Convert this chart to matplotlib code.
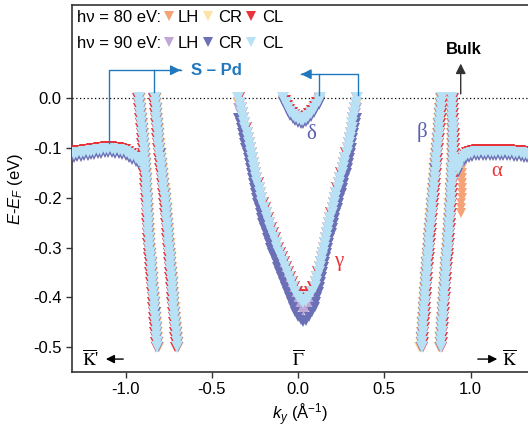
#!/usr/bin/env python3
# -*- coding:utf-8 -*-
import numpy as np
import matplotlib
matplotlib.use("Agg")
import matplotlib.pyplot as plt

plt.rcParams['font.family'] = ['Liberation Sans', 'DejaVu Sans']
plt.rcParams['axes.unicode_minus'] = False
plt.rcParams['mathtext.fontset'] = 'custom'
plt.rcParams['mathtext.rm'] = 'Liberation Sans'
plt.rcParams['mathtext.it'] = 'Liberation Sans:italic'

# energies of the MDC cuts (eV)
e_mdc = np.linspace(0.0, -0.5, 51)
e_vee = np.linspace(0.0, -0.4, 41)

# band positions (k in 1/A) for hv = 90 eV CL
k_left_out = [-0.923, -0.920, -0.917, -0.914, -0.911, -0.908, -0.906, -0.903, -0.900, -0.898,
              -0.895, -0.893, -0.891, -0.889, -0.888, -0.886, -0.884, -0.882, -0.881, -0.879,
              -0.877, -0.876, -0.874, -0.873, -0.871, -0.870, -0.868, -0.867, -0.865, -0.864,
              -0.862, -0.860, -0.858, -0.855, -0.853, -0.851, -0.848, -0.846, -0.844, -0.841,
              -0.839, -0.837, -0.835, -0.832, -0.830, -0.828, -0.825, -0.823, -0.821, -0.818,
              -0.816]
k_left_in = [-0.831, -0.829, -0.826, -0.824, -0.821, -0.819, -0.816, -0.814, -0.811, -0.809,
             -0.806, -0.803, -0.800, -0.796, -0.793, -0.790, -0.786, -0.783, -0.780, -0.776,
             -0.773, -0.771, -0.768, -0.766, -0.763, -0.761, -0.758, -0.756, -0.753, -0.751,
             -0.748, -0.746, -0.744, -0.742, -0.740, -0.738, -0.735, -0.733, -0.731, -0.729,
             -0.727, -0.724, -0.722, -0.719, -0.717, -0.714, -0.711, -0.709, -0.706, -0.704,
             -0.701]
k_beta = [0.833, 0.830, 0.828, 0.825, 0.823, 0.820, 0.817, 0.815, 0.812, 0.810,
          0.807, 0.804, 0.802, 0.799, 0.797, 0.794, 0.792, 0.789, 0.787, 0.784,
          0.782, 0.779, 0.777, 0.774, 0.772, 0.769, 0.767, 0.764, 0.762, 0.759,
          0.757, 0.755, 0.753, 0.750, 0.748, 0.746, 0.744, 0.742, 0.740, 0.738,
          0.736, 0.734, 0.732, 0.731, 0.729, 0.727, 0.725, 0.723, 0.720, 0.718,
          0.716]
k_bulk = [0.892, 0.893, 0.894, 0.894, 0.895, 0.896, 0.896, 0.897, 0.897, 0.897,
          0.897, 0.897, 0.896, 0.896, 0.895, 0.894, 0.893, 0.891, 0.889, 0.888,
          0.886, 0.884, 0.882, 0.881, 0.879, 0.877, 0.875, 0.873, 0.871, 0.869,
          0.867, 0.865, 0.863, 0.860, 0.858, 0.856, 0.854, 0.852, 0.850, 0.848,
          0.846, 0.844, 0.842, 0.841, 0.839, 0.837, 0.835, 0.833, 0.831, 0.829,
          0.827]

# gamma band, two branches + bottom
k_gam_left = [-0.346, -0.339, -0.332, -0.326, -0.319, -0.312, -0.305, -0.298, -0.292, -0.285,
              -0.278, -0.272, -0.266, -0.261, -0.255, -0.249, -0.242, -0.236, -0.229, -0.222,
              -0.215, -0.206, -0.197, -0.188, -0.179, -0.170, -0.160, -0.150, -0.140, -0.130,
              -0.120, -0.109, -0.098, -0.088, -0.077, -0.066, -0.054, -0.042, -0.030, -0.015,
              0.000]
k_gam_right = [0.340, 0.335, 0.330, 0.325, 0.320, 0.315, 0.310, 0.305, 0.300, 0.295,
               0.290, 0.282, 0.275, 0.267, 0.260, 0.252, 0.244, 0.237, 0.229, 0.222,
               0.214, 0.208, 0.201, 0.195, 0.188, 0.182, 0.176, 0.170, 0.164, 0.158,
               0.152, 0.146, 0.139, 0.133, 0.126, 0.120, 0.112, 0.104, 0.096, 0.081,
               0.065]
k_gam_bot = [0.015, 0.030, 0.045]
e_gam_bot = [-0.406, -0.409, -0.407]

# S-Pd surface band on the left
k_spd = [-1.30, -1.28, -1.26, -1.24, -1.22, -1.20, -1.18, -1.16, -1.14, -1.12, -1.10,
         -1.08, -1.06, -1.04, -1.02, -1.00, -0.98, -0.96, -0.94, -0.92, -0.905]
e_spd = [-0.113, -0.111, -0.110, -0.109, -0.108, -0.107, -0.106, -0.105, -0.104, -0.103, -0.103,
         -0.103, -0.104, -0.105, -0.107, -0.109, -0.112, -0.116, -0.121, -0.127, -0.133]

# alpha band on the right
k_alpha = [0.925, 0.935, 0.945, 0.960, 0.975, 0.990, 1.01, 1.03, 1.05, 1.07, 1.09, 1.11,
           1.13, 1.15, 1.17, 1.19, 1.21, 1.23, 1.25, 1.27, 1.29, 1.31, 1.33]
e_alpha = [-0.142, -0.132, -0.125, -0.119, -0.115, -0.112, -0.110, -0.109, -0.108, -0.108, -0.108, -0.108,
           -0.108, -0.108, -0.108, -0.108, -0.109, -0.109, -0.110, -0.110, -0.111, -0.112, -0.113]
# extra branch only seen with 80 eV LH
k_alpha_tail = [0.950, 0.952, 0.953, 0.953, 0.952, 0.950, 0.948, 0.946, 0.944, 0.942]
e_alpha_tail = [-0.14, -0.15, -0.16, -0.17, -0.18, -0.19, -0.20, -0.21, -0.22, -0.23]

# delta electron pocket
k_delta = [-0.085, -0.072, -0.058, -0.044, -0.030, -0.015, 0.000, 0.015,
           0.030, 0.045, 0.060, 0.075, 0.090, 0.105, 0.120, 0.130]
e_delta = [0.000, -0.010, -0.019, -0.027, -0.033, -0.038, -0.041, -0.043,
           -0.043, -0.040, -0.035, -0.029, -0.021, -0.013, -0.005, 0.001]

# the six data sets: 80 eV LH, CR, CL, 90 eV LH, CR, CL
series_colors = ['#f6a277', '#fde2a6', '#e8333b', '#bca7d5', '#6a6fb6', '#b8e1f5']
# offsets of each set relative to 90 eV CL
dk_steep = [-0.008, -0.012, 0.010, 0.007, -0.006, 0.0]
de_flat = [-0.006, -0.003, 0.006, -0.004, -0.008, 0.0]
de_vee = [-0.008, -0.012, 0.012, -0.020, -0.040, 0.0]
draw_order = [1, 0, 3, 4, 2, 5]


def main():

	fig = plt.figure(figsize=(5.28, 4.28), dpi=100)
	ax = fig.add_axes([0.1364, 0.1308, 0.8636, 0.8575])

	steep = [(k_left_out, e_mdc), (k_left_in, e_mdc), (k_beta, e_mdc), (k_bulk, e_mdc)]
	flat = [(k_spd, e_spd), (k_alpha, e_alpha), (k_delta, e_delta)]
	kv = np.concatenate([k_gam_left, k_gam_bot, k_gam_right[::-1]])
	ev = np.concatenate([e_vee, e_gam_bot, e_vee[::-1]])

	for s in draw_order:
		c = series_colors[s]
		ks = []
		es = []
		for k, e in steep:
			k = np.asarray(k)
			ks.append(k + dk_steep[s] * np.sign(k))
			es.append(np.asarray(e))
		for k, e in flat:
			ks.append(np.asarray(k))
			es.append(np.asarray(e) + de_flat[s])
		# gamma band: shift in energy
		ks.append(kv)
		es.append(ev + de_vee[s])
		if s == 0:
			ks.append(np.asarray(k_alpha_tail))
			es.append(np.asarray(e_alpha_tail))
		ks = np.concatenate(ks)
		es = np.concatenate(es)
		keep = es < 0.006
		ms = 8 if s == 5 else 7
		ax.plot(ks[keep], es[keep], linestyle='none', marker='v', ms=ms,
			color=c, markeredgewidth=0, zorder=2 + draw_order.index(s))

	# Fermi level
	ax.axhline(0.0, color='k', linestyle=(0, (1, 2)), lw=0.9, zorder=1)

	ax.set_xlim(-1.31, 1.333)
	ax.set_ylim(-0.55, 0.187)
	ax.set_xticks([-1.0, -0.5, 0.0, 0.5, 1.0])
	ax.set_yticks([0.0, -0.1, -0.2, -0.3, -0.4, -0.5])
	ax.set_xticklabels(['-1.0', '-0.5', '0.0', '0.5', '1.0'])
	ax.set_yticklabels(['0.0', '-0.1', '-0.2', '-0.3', '-0.4', '-0.5'])
	ax.tick_params(direction='out', length=4, width=1, labelsize=12, color='#333333')
	for sp in ['left', 'bottom', 'top']:
		ax.spines[sp].set_linewidth(1.2)
		ax.spines[sp].set_color('#333333')
	ax.spines['right'].set_visible(False)

	ax.set_xlabel(r'$k_y$ (Å$^{-1}$)', fontsize=12, labelpad=3)
	ax.set_ylabel(r'$E$-$E_F$ (eV)', fontsize=12, labelpad=6)

	# legend written by hand
	rows = [(0.967, 'hν = 80 eV:', [0, 1, 2]), (0.894, 'hν = 90 eV:', [3, 4, 5])]
	mx = [0.2127, 0.2982, 0.3925]
	tx = [0.2325, 0.3202, 0.4167]
	labs = ['LH', 'CR', 'CL']
	for y, title, idx in rows:
		ax.text(0.011, y, title, transform=ax.transAxes, fontsize=12, va='center', ha='left')
		for j in range(3):
			ax.plot([mx[j]], [y + 0.004], marker='v', ms=7, color=series_colors[idx[j]],
				markeredgewidth=0, transform=ax.transAxes, clip_on=False, linestyle='none')
			ax.text(tx[j], y, labs[j], transform=ax.transAxes, fontsize=12, va='center', ha='left')

	# S - Pd brackets
	blue = '#1f78be'
	ax.plot([-1.094, -1.094, -0.68], [-0.090, 0.056, 0.056], color=blue, lw=1, zorder=10)
	ax.plot([-0.833, -0.833], [0.012, 0.056], color=blue, lw=1, zorder=10)
	ax.annotate('', xy=(-0.665, 0.056), xytext=(-0.70, 0.056),
		arrowprops=dict(arrowstyle='-|>,head_length=0.6,head_width=0.3', color=blue, lw=1), zorder=10)
	ax.text(-0.622, 0.055, 'S – Pd', color=blue, fontsize=12, fontweight='bold', va='center', ha='left')

	ax.plot([0.35, 0.35, 0.02], [0.006, 0.048, 0.048], color=blue, lw=1, zorder=10)
	ax.plot([0.122, 0.122], [0.006, 0.048], color=blue, lw=1, zorder=10)
	ax.annotate('', xy=(0.002, 0.048), xytext=(0.04, 0.048),
		arrowprops=dict(arrowstyle='-|>,head_length=0.6,head_width=0.3', color=blue, lw=1), zorder=10)

	# bulk arrow
	ax.annotate('', xy=(0.943, 0.075), xytext=(0.943, 0.003),
		arrowprops=dict(arrowstyle='-|>,head_length=0.6,head_width=0.3', color='#333333', lw=1), zorder=10)
	ax.text(0.962, 0.098, 'Bulk', fontsize=12, fontweight='bold', ha='center', va='center')

	# band labels
	ax.text(0.079, -0.074, 'δ', color='#5a5fae', fontsize=15, family='Liberation Serif', ha='center', va='center')
	ax.text(0.717, -0.068, 'β', color='#5a5fae', fontsize=15, family='Liberation Serif', ha='center', va='center')
	ax.text(1.152, -0.148, 'α', color='#e8333b', fontsize=15, family='Liberation Serif', ha='center', va='center')
	ax.text(0.234, -0.329, 'γ', color='#e8333b', fontsize=15, family='Liberation Serif', ha='center', va='center')

	# high symmetry points
	ax.text(-1.2, -0.524, r"$\overline{\mathrm{K}}$'", fontsize=13, family='Liberation Serif',
		math_fontfamily='stix', ha='center', va='center')
	ax.text(0.0, -0.524, r'$\overline{\Gamma}$', fontsize=13, math_fontfamily='stix', ha='center', va='center')
	ax.text(1.223, -0.524, r'$\overline{\mathrm{K}}$', fontsize=13, math_fontfamily='stix', ha='center', va='center')
	ax.annotate('', xy=(-1.13, -0.524), xytext=(-0.997, -0.524),
		arrowprops=dict(arrowstyle='-|>,head_length=0.5,head_width=0.25', color='k', lw=1))
	ax.annotate('', xy=(1.171, -0.524), xytext=(1.026, -0.524),
		arrowprops=dict(arrowstyle='-|>,head_length=0.5,head_width=0.25', color='k', lw=1))

	plt.savefig('out.png', dpi=100)


if __name__ == "__main__":
	main()
